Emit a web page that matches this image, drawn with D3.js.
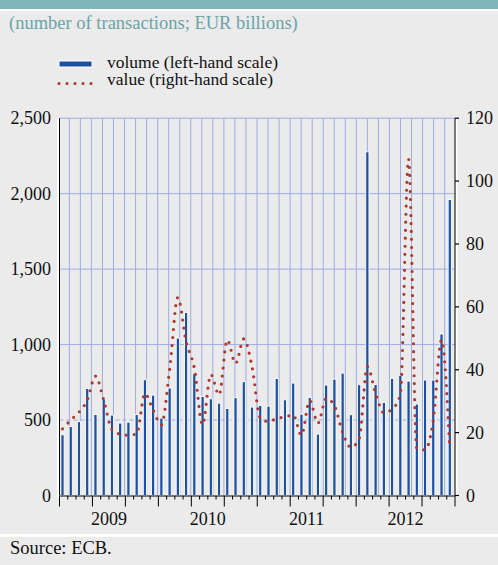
<!DOCTYPE html>
<html>
<head>
<meta charset="utf-8">
<script src="https://cdn.jsdelivr.net/npm/d3@7"></script>
<style>
  body { margin: 0; background: #ebebeb; }
  svg { display: block; }
  svg text { font-family: "Liberation Serif", Tinos, "Times New Roman", Times, "DejaVu Serif", serif; }
</style>
</head>
<body>
<svg id="chart"></svg>
<script>
// categories
const years = ['2009', '2010', '2011', '2012'];
const monthNames = ['Jan', 'Feb', 'Mar', 'Apr', 'May', 'Jun', 'Jul', 'Aug', 'Sep', 'Oct', 'Nov', 'Dec'];
const months = years.flatMap(y => monthNames.map(m => `${y}-${m}`));

// volume, number of transactions (left-hand scale)
const volume = [
  402, 457, 489, 709, 537, 639, 533, 480, 486, 537, 767, 665,
  513, 712, 1043, 1213, 807, 656, 641, 612, 577, 648, 754, 586,
  597, 592, 776, 634, 745, 539, 650, 407, 732, 771, 811, 535,
  734, 2277, 736, 617, 776, 796, 758, 606, 765, 765, 1070, 1961
];

// value, EUR billions (right-hand scale)
const value = [
  21.2, 24, 26.5, 30.3, 38, 30.4, 21, 19.5, 19.2, 19.6, 32.4, 27.2,
  22.5, 40, 63, 49, 40.5, 22.5, 38.5, 32, 49.5, 42, 49.8, 41,
  24.7, 23.5, 24.5, 25, 25.6, 19.2, 30.2, 23, 30.9, 28.6, 20, 15.3,
  18, 41, 32.5, 26.3, 27.5, 32, 107, 15, 14.5, 24, 49.5, 14.6
];

// tick labels
const leftTicks = [0, 500, 1000, 1500, 2000, 2500];
const rightTicks = [0, 20, 40, 60, 80, 100, 120];

// sizes
const widthSVG = 498;
const heightSVG = 565;
const plot = { left: 59.5, right: 455, top: 118.2, bottom: 495.5 };
const serif = '"Liberation Serif", Tinos, "Times New Roman", Times, "DejaVu Serif", serif';

const colBar = '#1c51a2';
const colDot = '#b2382c';
const colGrid = '#9dace4';
const colTeal = '#80b5bb';

const svg = d3.select('svg#chart')
  .attr('width', widthSVG)
  .attr('height', heightSVG)
  .style('font-family', serif);

svg.append('rect')
  .attr('width', widthSVG).attr('height', heightSVG)
  .style('fill', '#ebebeb');

// top band
svg.append('rect').attr('x', 0).attr('y', 0).attr('width', widthSVG).attr('height', 9).style('fill', colTeal);
svg.append('rect').attr('x', 0).attr('y', 9).attr('width', widthSVG).attr('height', 2).style('fill', '#ffffff');

// title
svg.append('text')
  .text('(number of transactions; EUR billions)')
  .attr('x', 9).attr('y', 29)
  .style('font-size', '18.5px')
  .style('fill', '#6aa4a8');

// scales
const x = d3.scaleBand().domain(months).range([plot.left, plot.right]);
const yL = d3.scaleLinear().domain([0, 2500]).range([plot.bottom, plot.top]);
const yR = d3.scaleLinear().domain([0, 120]).range([plot.bottom, plot.top]);
const gridX = d3.scaleLinear().domain([0, 36]).range([58.3, 455.7]);

const barW = 3.2;
const cx = m => x(m) + 3;

// grid
const grid = svg.append('g').attr('id', 'grid');
grid.selectAll('line.vgrid')
  .data(d3.range(1, 36))
  .enter()
  .append('line')
  .classed('vgrid', true)
  .attr('x1', d => gridX(d)).attr('x2', d => gridX(d))
  .attr('y1', plot.top).attr('y2', plot.bottom)
  .style('stroke', colGrid)
  .style('stroke-width', 1);

grid.selectAll('line.hgrid')
  .data(leftTicks.filter(d => d > 0))
  .enter()
  .append('line')
  .classed('hgrid', true)
  .attr('x1', plot.left).attr('x2', plot.right)
  .attr('y1', d => yL(d)).attr('y2', d => yL(d))
  .style('stroke', colGrid)
  .style('stroke-width', 1)
  .style('stroke-dasharray', d => d === 500 ? '4 3' : null);

// bars
svg.append('g').selectAll('rect')
  .data(months)
  .enter()
  .append('rect')
  .attr('x', d => cx(d) - barW / 2)
  .attr('width', barW)
  .attr('y', (d, i) => yL(volume[i]))
  .attr('height', (d, i) => plot.bottom - yL(volume[i]))
  .style('fill', colBar)
  .style('stroke', '#ffffff')
  .style('stroke-width', 0.9);

// value line
const line = d3.line()
  .x(d => cx(d.m))
  .y(d => yR(d.v))
  .curve(d3.curveMonotoneX);

svg.append('path')
  .datum(months.map((m, i) => ({ m: m, v: value[i] })))
  .attr('d', line)
  .style('fill', 'none')
  .style('stroke', colDot)
  .style('stroke-width', 3.2)
  .style('stroke-linecap', 'round')
  .style('stroke-dasharray', '0 8');

// axes
const axes = svg.append('g').attr('id', 'axes');

// white halos
axes.append('line')
  .attr('x1', plot.left - 1.5).attr('x2', plot.left - 1.5)
  .attr('y1', plot.top).attr('y2', plot.bottom + 2)
  .style('stroke', '#ffffff').style('stroke-width', 2);
axes.append('line')
  .attr('x1', plot.right + 1.5).attr('x2', plot.right + 1.5)
  .attr('y1', plot.top).attr('y2', plot.bottom + 2)
  .style('stroke', '#ffffff').style('stroke-width', 2);

// left axis
axes.append('line')
  .attr('x1', plot.left).attr('x2', plot.left)
  .attr('y1', plot.top).attr('y2', plot.bottom)
  .style('stroke', '#000').style('stroke-width', 1);

axes.selectAll('text.left')
  .data(leftTicks)
  .enter()
  .append('text')
  .classed('left', true)
  .text(d => d3.format(',')(d))
  .attr('x', 51)
  .attr('y', d => yL(d) + 6)
  .style('text-anchor', 'end')
  .style('font-size', '18px')
  .style('fill', '#111');

// right axis
axes.append('line')
  .attr('x1', plot.right).attr('x2', plot.right)
  .attr('y1', plot.top).attr('y2', plot.bottom)
  .style('stroke', '#000').style('stroke-width', 1);

axes.selectAll('line.rtick')
  .data(rightTicks)
  .enter()
  .append('line')
  .classed('rtick', true)
  .attr('x1', plot.right).attr('x2', plot.right + 4)
  .attr('y1', d => yR(d)).attr('y2', d => yR(d))
  .style('stroke', '#000').style('stroke-width', 1.2);

axes.selectAll('text.right')
  .data(rightTicks)
  .enter()
  .append('text')
  .classed('right', true)
  .text(d => d)
  .attr('x', 466)
  .attr('y', d => yR(d) + 6)
  .style('text-anchor', 'start')
  .style('font-size', '18px')
  .style('fill', '#111');

// bottom axis
axes.append('line')
  .attr('x1', plot.left).attr('x2', plot.right)
  .attr('y1', plot.bottom + 0.5).attr('y2', plot.bottom + 0.5)
  .style('stroke', '#000').style('stroke-width', 1);

axes.selectAll('line.xtick')
  .data(d3.range(0, 49))
  .enter()
  .append('line')
  .classed('xtick', true)
  .attr('x1', d => plot.left + d * x.bandwidth())
  .attr('x2', d => plot.left + d * x.bandwidth())
  .attr('y1', plot.bottom + 0.5)
  .attr('y2', d => d % 4 === 0 ? plot.bottom + 11 : plot.bottom + 4)
  .style('stroke', '#000')
  .style('stroke-width', 1);

axes.selectAll('text.year')
  .data(years)
  .enter()
  .append('text')
  .classed('year', true)
  .text(d => d)
  .attr('x', d => x(`${d}-Jan`) + 6 * x.bandwidth())
  .attr('y', 525)
  .style('text-anchor', 'middle')
  .style('font-size', '18px')
  .style('fill', '#111');

// legend
const legend = svg.append('g').attr('id', 'legend');
legend.append('rect')
  .attr('x', 59).attr('y', 61).attr('width', 33).attr('height', 6)
  .style('fill', colBar)
  .style('stroke', '#ffffff')
  .style('stroke-width', 1);
legend.append('text')
  .text('volume (left-hand scale)')
  .attr('x', 107).attr('y', 67.5)
  .style('font-size', '17.5px')
  .style('fill', '#111');
legend.append('line')
  .attr('x1', 59).attr('x2', 93)
  .attr('y1', 83.5).attr('y2', 83.5)
  .style('stroke', colDot)
  .style('stroke-width', 3.2)
  .style('stroke-linecap', 'round')
  .style('stroke-dasharray', '0 8');
legend.append('text')
  .text('value (right-hand scale)')
  .attr('x', 107).attr('y', 84.5)
  .style('font-size', '17.5px')
  .style('fill', '#111');

// source footer
svg.append('rect').attr('x', 0).attr('y', 534).attr('width', widthSVG).attr('height', 3).style('fill', '#ffffff');
svg.append('text')
  .text('Source: ECB.')
  .attr('x', 10).attr('y', 554)
  .style('font-size', '18.5px')
  .style('fill', '#111');
</script>
</body>
</html>
